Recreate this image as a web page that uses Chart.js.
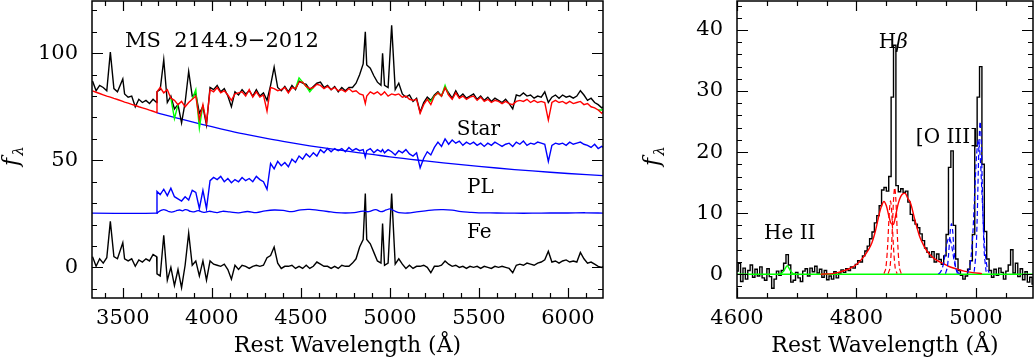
<!DOCTYPE html>
<html>
<head>
<meta charset="utf-8">
<script src="https://cdn.jsdelivr.net/npm/chart.js@4.4.1/dist/chart.umd.min.js"></script>
<style>
  html, body { margin: 0; padding: 0; background: #fff; }
  #wrap { position: relative; width: 1035px; height: 359px; overflow: hidden; }
  canvas { position: absolute; top: 0; }
  #left { left: 0; width: 620px; height: 359px; }
  #right { left: 640px; width: 395px; height: 359px; }
</style>
</head>
<body>
<div id="wrap">
  <canvas id="left" width="620" height="359"></canvas>
  <canvas id="right" width="395" height="359"></canvas>
</div>
<script>
const _ = null;

// ---- left panel: full spectrum and decomposition ----
const waveL = [
  3330,3350,3370,3390,3410,3430,3450,3470,3500,3510,
  3530,3550,3570,3590,3610,3630,3650,3670,3690,3692,
  3710,3730,3750,3770,3790,3810,3830,3850,3870,3890,
  3910,3930,3950,3970,3990,4010,4030,4050,4070,4090,
  4110,4130,4150,4170,4190,4210,4230,4250,4270,4290,
  4310,4330,4350,4370,4390,4410,4430,4450,4470,4490,
  4510,4530,4550,4570,4590,4610,4630,4650,4670,4690,
  4710,4730,4750,4770,4790,4810,4830,4850,4862,4870,
  4890,4910,4930,4950,4959,4970,4990,5010,5030,5050,
  5070,5090,5110,5130,5150,5170,5190,5210,5230,5250,
  5270,5290,5310,5330,5350,5370,5390,5410,5430,5450,
  5470,5490,5510,5530,5550,5570,5590,5610,5630,5650,
  5670,5690,5710,5730,5750,5770,5790,5810,5830,5850,
  5870,5890,5910,5930,5950,5970,5990,6010,6030,6050,
  6070,6090,6110,6130,6150,6170,6190,6200
];
const obsTop = [
  87,82.5,85,84,82.5,100.5,83.5,82,88,81,
  79.5,80,75,78.5,77,78,76.5,78.5,77,82,
  83,97,77,80,74,76,67.5,77,91.5,80,
  81,72,75,66.5,84,83,85,82,83.5,80,
  75,82,80.5,83,81,82.5,80,83,80,81.5,
  78,85,93.5,84,82.5,84.5,82,85,83,87,
  86,85.5,83,84.5,86,86.5,84,85,83,84.5,
  82,84,82.5,84,84,86,90,95,110,94.5,
  93,89.5,86.5,85,100,85,84,113,83,86,
  81,79.5,80.5,77.5,79,72.5,77,79.5,78,80.5,
  82,80,84,81.5,79,82.5,79.5,81,79,80,
  81,78.5,80,78,79.5,77.5,79,78,77,78.5,
  76.5,74,80.5,80,81.5,80,80.5,79,80,79.5,
  82,77,79.5,80.5,79,80.5,79.5,80,79,80,
  82.5,80.5,78,79,77,76,74.5,75
];
const modelFit = [
  82.4,81.8,81.2,80.6,80.0,79.5,78.9,78.4,77.5,77.2,
  76.7,76.1,75.6,75.0,74.5,74.0,73.4,72.9,72.3,82,
  84,81.5,83,79,78,76,77.5,75,77,78.5,
  80,69,76,67.5,83,82,84,81.5,82.5,80.5,
  78,81,81.5,82,80,83,79.5,82,79.5,80.5,
  73,84,83.5,82.5,83,84,81.5,84,83.5,86.5,
  86.5,84.5,83.5,84,85.5,85,83.5,84.5,83,84,
  82.5,83,82,83.5,82,82.5,81,80.5,76.5,80,
  82,81,82,80.5,81,82,80,81,80.5,81,
  79.5,80,78.5,78,78.5,72,76,78.5,76,80,
  81.5,80,84,80.5,78.5,81.5,79,80,78.5,79.5,
  80,78,79.5,77.5,78.5,77,78,77.5,76.5,77.5,
  76.5,76,77.5,78,77.5,78.5,77,78,77,77.5,
  77,68.8,77,78,77,77.5,76.5,77.5,76.5,77,
  77.5,76,76.5,75,74.5,73.5,72,73
];
const greenFit = [
  _,_,_,_,_,_,_,_,_,_,
  _,_,_,_,_,_,_,_,_,_,
  _,_,_,79,69.5,76,_,_,_,78.5,
  83,65,76,_,_,_,_,_,_,_,
  _,_,_,_,_,_,_,_,_,_,
  _,_,_,_,_,_,_,_,83.5,88.5,
  86.5,84.5,82,84,_,_,_,_,_,_,
  _,_,_,_,_,_,_,_,_,_,
  _,_,_,_,_,_,_,_,_,_,
  _,_,_,_,_,_,_,78.5,77.5,80,
  81.5,80,85,80.5,_,_,_,_,_,_,
  _,_,_,_,_,_,_,_,_,_,
  _,_,_,_,_,_,_,_,_,_,
  _,_,_,_,_,_,_,_,_,_,
  _,_,_,_,_,73.5,73.5,74
];
const starFlux = [
  _,_,_,_,_,_,_,_,_,_,
  _,_,_,_,_,_,_,_,25.3,35.5,
  34,36.5,33.5,37,33,32,31,33,31.5,36,
  35,27.5,36,27.5,40.5,42,41,42.5,40,41.5,
  39.5,41,40,42,40.5,41.5,40,42.5,41,40,
  36.5,48.5,46,49.5,47.5,49,47,50.5,49,52,
  50.5,53,51.5,53.5,52,55,53.5,55.5,54,55.5,
  54.5,55.5,54,56,54.5,55.5,54.5,55,51.5,54.5,
  55.5,53.5,55,54,55,53.5,55,54,52.5,54.5,
  53.5,55,53,52,53.5,46.5,51,54,52.5,56,
  58.5,56.5,60,57.5,59.5,58,59,57,58.5,57.5,
  58.5,57,58,56.5,58,57,58.5,57.5,56.5,57.5,
  58,56.5,58.5,57.5,59,57,58,57.5,58.5,58,
  57.5,49.5,57,58,57.5,58,57,58.5,57.5,58,
  58.5,57.5,57,56,57.5,55.5,56.5,56
];
const residFlux = [
  5,0.5,4,2,4.5,21.5,5,4,11.5,4,
  3,4,0.5,3.5,2.5,4,3,6,5,-3,
  -4,15,-6,0,-8.5,-1,-9.5,1,16,1,
  3,-4,3,-6,3,1.5,1,0.5,1.5,-1,
  -5.5,1,-1,1,0.5,-0.5,0.5,1,0.5,1,
  4.5,5.5,9.5,2,-0.5,0.5,0.5,1,-0.5,0.5,
  -0.5,1,-0.5,0.5,2.5,1.5,0.5,0.5,-0.5,0.5,
  -0.5,1,0.5,0.5,2,4,9.5,13,34.5,13,
  11,7,3,2,20.5,1,2,34.5,1.5,4,
  1.5,-0.5,1,-0.5,0.5,0.5,1,0,-2.5,0.5,
  0.5,1,3,1.5,0.5,1,0,0.5,-0.5,0.5,
  0,0.5,-0.5,0.5,0,-0.5,0.5,0,0.5,0,
  -0.5,-2.5,1,1.5,1,2,1.5,1,2,2.5,
  3.5,7.5,2.5,3,2,3,3.5,2.5,3,2.5,
  7,4,2,2.5,1.5,0.5,0,0.5
];
const plWave = [3690,3800,3900,4000,4100,4200,4300,4400,4500,4600,4700,4800,4900,5000,5200,5400,5600,5800,6000,6210];
const plFlux = [72.3,69.8,67.7,65.7,63.8,62.0,60.35,58.85,57.45,56.15,54.95,53.85,52.8,51.6,49.7,47.95,46.4,45.05,43.85,42.75];
const feWave = [
  3320,3690,3700,3715,3730,3745,3760,3775,3790,3805,
  3820,3835,3850,3865,3880,3895,3910,3925,3940,3955,
  3970,3985,4000,4030,4060,4100,4150,4200,4250,4300,
  4350,4400,4450,4500,4550,4600,4650,4700,4750,4800,
  4850,4880,4920,4950,4980,5000,5020,5050,5100,5150,
  5200,5250,5300,5350,5400,5450,5500,5600,5700,5800,
  5900,6000,6100,6210
];
const feFlux = [
  25.3,25.3,25.9,26.6,27.0,26.6,26.0,25.8,26.1,26.6,
  26.8,26.4,27.0,26.7,26.1,25.9,26.2,26.5,26.0,25.7,
  25.9,26.2,26.0,25.6,26.2,25.9,25.5,26.1,25.6,26.4,
  26.8,26.6,26.0,26.9,27.1,26.6,26.1,25.6,25.4,25.6,
  26.3,26.0,27.0,26.0,26.8,27.3,26.6,25.6,25.4,25.9,
  26.4,26.9,27.0,26.7,26.0,25.7,25.5,25.4,25.3,25.3,
  25.4,25.4,25.5,25.3
];
const leftXTicks = [3500, 4000, 4500, 5000, 5500, 6000];
const leftYTicks = [0, 50, 100];

// ---- right panel: H-beta / [O III] region ----
const waveR = [
  4600,4604,4608,4612,4616,4620,4624,4628,4632,4636,
  4640,4644,4648,4652,4656,4660,4664,4668,4672,4676,
  4680,4684,4688,4692,4696,4700,4704,4708,4712,4716,
  4720,4724,4728,4732,4736,4740,4744,4748,4752,4756,
  4760,4764,4768,4772,4776,4780,4784,4788,4792,4796,
  4800,4804,4808,4812,4816,4820,4824,4828,4832,4836,
  4840,4844,4848,4852,4856,4860,4864,4868,4872,4876,
  4880,4884,4888,4892,4896,4900,4904,4908,4912,4916,
  4920,4924,4928,4932,4936,4940,4944,4948,4952,4956,
  4960,4964,4968,4972,4976,4980,4984,4988,4992,4996,
  5000,5004,5008,5012,5016,5020,5024,5028,5032,5036,
  5040,5044,5048,5052,5056,5060,5064,5068,5072,5076,
  5080,5084,5088,5092,5096
];
const obsR = [
  0.5,1.8,-1.2,1.0,-0.8,0.6,1.5,-0.5,0.8,-0.3,
  1.2,-0.6,-1.0,0.9,-0.4,-2.3,-0.8,0.5,-0.2,0.6,
  1.8,3.2,1.5,-1.3,-1.0,0.3,-0.6,-1.2,0.5,0.9,
  -0.3,1.0,0.4,1.3,0.2,0.8,-0.5,0.6,-0.9,-0.3,
  -0.8,0.4,-0.6,0.2,0.7,0.3,0.9,0.6,1.2,1.0,
  1.6,2.2,2.0,3.0,3.8,4.6,5.8,6.9,8.4,9.6,
  11.2,13.8,14.2,13.6,16.0,29.0,37.5,14.5,13.5,14.0,
  13.4,13.6,11.8,9.8,8.8,8.2,7.6,6.6,5.5,4.3,
  3.6,2.8,3.7,2.0,3.3,2.4,1.6,3.0,6.5,17.5,
  20.2,8.0,2.5,0.6,-0.2,-0.8,-0.3,0.8,2.2,6.5,
  21.0,29.0,34.0,18.0,7.0,2.5,0.6,-0.5,0.8,-0.2,
  1.0,0.3,-0.8,0.5,1.5,4.0,0.2,1.8,-0.4,0.9,
  -0.9,0.4,-1.3,-0.5,-1.6
];
const broadWave = [4740,4760,4770,4780,4790,4800,4810,4820,4826,4832,4838,4842,4846,4850,4854,4858,4862,4866,4870,4874,4878,4882,4886,4890,4894,4898,4902,4906,4912,4918,4926,4934,4944,4954,4966,4980,4995,5010];
const broadFlux = [0.0,0.1,0.3,0.6,1.0,1.6,2.6,4.0,5.2,7.2,9.8,11.2,11.9,11.2,9.6,8.3,8.2,9.8,11.6,12.7,13.2,13.2,12.4,11.8,10.4,8.8,7.4,6.1,4.8,3.8,2.9,2.3,1.8,1.3,0.9,0.5,0.25,0.1];
const hbNarrowAWave = [4846,4849,4852,4855,4857,4859,4862,4865,4868];
const hbNarrowAFlux = [0.1,0.9,4.4,10.2,12.0,10.2,4.4,0.9,0.1];
const hbNarrowBWave = [4853,4856,4859,4862,4864,4866,4869,4872,4875];
const hbNarrowBFlux = [0.1,1.0,5.2,12.1,14.2,12.1,5.2,1.0,0.1];
const o3NarrowWave = [4949,4952,4954,4956,4957,4959,4961,4962,4964,4966,4969,4985,4997,5000,5002,5004,5005,5007,5009,5010,5012,5014,5017];
const o3NarrowFlux = [0.1,1.1,3.0,5.7,7.1,8.3,7.1,5.7,3.0,1.1,0.1,_,0.4,3.4,9.0,17.2,21.2,25,21.2,17.2,9.0,3.4,0.4];
const o3BroadWave = [4937,4940,4943,4946,4949,4952,4955,4958,4961,4964,4967,4970,4973,4980,4986,4989,4992,4995,4998,5001,5004,5007,5010,5013,5016,5019,5022];
const o3BroadFlux = [0.07,0.26,0.8,1.9,3.7,5.3,6.0,5.3,3.7,1.9,0.8,0.26,0.07,_,0.25,1.0,3.0,7.0,13.4,19.4,22,19.4,13.4,7.0,3.0,1.0,0.25];
const heWave = [4670,4674,4678,4681,4684,4687,4690,4694,4698];
const heFlux = [0,0.1,0.5,1.0,1.4,1.0,0.5,0.1,0];
const zeroWave = [4590,5100];
const zeroFlux = [0,0];
const rightXTicks = [4600, 4800, 5000];
const rightYTicks = [0, 10, 20, 30, 40];

const leftNotes = [
  {x: 3513, y: 103.1, size: 21, parts: [{t: 'MS  2144.9\u22122012'}]},
  {x: 5376, y: 61.8, size: 20, parts: [{t: 'Star'}]},
  {x: 5433, y: 34.6, size: 20, parts: [{t: 'PL'}]},
  {x: 5433, y: 13.6, size: 20, parts: [{t: 'Fe'}]}
];
const rightNotes = [
  {x: 4837.4, y: 37.05, size: 20, parts: [{t: 'H'}, {t: '\u03b2', italic: true}]},
  {x: 4899.4, y: 21.5, size: 20, parts: [{t: '[O III]'}]},
  {x: 4645.2, y: 5.73, size: 20, parts: [{t: 'He II'}]}
];

Chart.defaults.font.family = "'DejaVu Serif', serif";
Chart.defaults.font.size = 21;
Chart.defaults.color = '#000';

function xy(w, f) {
  return w.map((v, i) => ({x: v, y: f[i]}));
}

function line(data, color, order, extra) {
  return Object.assign({
    data: data, borderColor: color, borderWidth: 1.4, pointRadius: 0,
    fill: false, tension: 0, spanGaps: false, order: order
  }, extra || {});
}

// frame, inward ticks, f_lambda label and text notes
function overlay(cfg) {
  return {
    id: 'overlay',
    afterDraw(chart) {
      const {ctx, chartArea: a, scales: {x, y}} = chart;
      const isMajor = (v, m) => Math.abs(v / m - Math.round(v / m)) < 1e-6;
      ctx.save();
      ctx.strokeStyle = '#000';
      ctx.lineWidth = 1.2;
      ctx.beginPath();
      for (let v = Math.ceil(x.min / cfg.xMinor) * cfg.xMinor; v <= x.max; v += cfg.xMinor) {
        const px = Math.round(x.getPixelForValue(v)) + 0.5;
        const len = isMajor(v, cfg.xMajor) ? 10 : 5;
        ctx.moveTo(px, a.bottom); ctx.lineTo(px, a.bottom - len);
        ctx.moveTo(px, a.top); ctx.lineTo(px, a.top + len);
      }
      for (let v = Math.ceil(y.min / cfg.yMinor) * cfg.yMinor; v <= y.max; v += cfg.yMinor) {
        const py = Math.round(y.getPixelForValue(v)) + 0.5;
        const len = isMajor(v, cfg.yMajor) ? 11 : 5;
        ctx.moveTo(a.left, py); ctx.lineTo(a.left + len, py);
        ctx.moveTo(a.right, py); ctx.lineTo(a.right - len, py);
      }
      ctx.stroke();
      ctx.lineWidth = 1.5;
      ctx.strokeRect(a.left, a.top, a.right - a.left, a.bottom - a.top);

      ctx.fillStyle = '#000';
      ctx.textAlign = 'left';
      ctx.textBaseline = 'alphabetic';
      cfg.notes.forEach(n => {
        let px = x.getPixelForValue(n.x);
        const py = y.getPixelForValue(n.y);
        n.parts.forEach(p => {
          ctx.font = (p.italic ? 'italic ' : '') + n.size + "px 'DejaVu Serif'";
          ctx.fillText(p.t, px, py);
          px += ctx.measureText(p.t).width;
        });
      });

      // y axis title: italic f with subscript lambda, rotated
      ctx.translate(cfg.fx, cfg.fy);
      ctx.rotate(-Math.PI / 2);
      ctx.font = "italic 22px 'DejaVu Serif'";
      ctx.fillText('f', 0, 0);
      const fw = ctx.measureText('f').width;
      ctx.font = "italic 15px 'DejaVu Serif'";
      ctx.fillText('\u03bb', fw + 2, 5);
      ctx.restore();
    }
  };
}

function noPad(s) {
  s.paddingTop = 0; s.paddingBottom = 0; s.paddingLeft = 0; s.paddingRight = 0;
}

function axes(xr, yr, xTicks, yTicks, yWidth) {
  return {
    x: {
      type: 'linear', min: xr[0], max: xr[1],
      grid: {display: false, drawTicks: false},
      border: {display: false},
      ticks: {padding: 8, maxRotation: 0, autoSkip: false, callback: v => String(v)},
      afterBuildTicks: s => { s.ticks = xTicks.map(v => ({value: v})); },
      title: {display: true, text: 'Rest Wavelength (\u00c5)', font: {size: 22}, padding: {top: 2, bottom: 0}},
      afterFit: s => { s.height = 61; noPad(s); }
    },
    y: {
      type: 'linear', min: yr[0], max: yr[1],
      grid: {display: false, drawTicks: false},
      border: {display: false},
      ticks: {padding: 14, autoSkip: false, callback: v => String(v)},
      afterBuildTicks: s => { s.ticks = yTicks.map(v => ({value: v})); },
      afterFit: s => { s.width = yWidth; noPad(s); }
    }
  };
}

const common = {
  responsive: false,
  animation: false,
  devicePixelRatio: 1,
  events: [],
  plugins: {legend: {display: false}, tooltip: {enabled: false}}
};

new Chart(document.getElementById('left'), {
  type: 'line',
  data: {
    datasets: [
      line(xy(waveL, modelFit), '#ff0000', 1),
      line(xy(waveL, greenFit), '#00ff00', 2),
      line(xy(waveL, obsTop), '#000000', 3),
      line(xy(plWave, plFlux), '#0000ff', 4, {tension: 0.4, borderWidth: 1.3}),
      line(xy(waveL, starFlux), '#0000ff', 5),
      line(xy(feWave, feFlux), '#0000ff', 6, {tension: 0.4, borderWidth: 1.3}),
      line(xy(waveL, residFlux), '#000000', 7)
    ]
  },
  options: Object.assign({}, common, {
    layout: {padding: {top: 1, right: 17, bottom: 0, left: 0}},
    scales: axes([3327, 6197], [-14.3, 124.4], leftXTicks, leftYTicks, 92)
  }),
  plugins: [overlay({xMinor: 100, xMajor: 500, yMinor: 10, yMajor: 50, notes: leftNotes, fx: 18, fy: 166})]
});

new Chart(document.getElementById('right'), {
  type: 'line',
  data: {
    datasets: [
      line(xy(o3NarrowWave, o3NarrowFlux), '#0000ff', 1, {borderDash: [5, 3], tension: 0.3, borderWidth: 1.2}),
      line(xy(o3BroadWave, o3BroadFlux), '#0000ff', 2, {borderDash: [5, 3], tension: 0.3, borderWidth: 1.2}),
      line(xy(hbNarrowAWave, hbNarrowAFlux), '#ff0000', 3, {borderDash: [5, 3], tension: 0.3, borderWidth: 1.2}),
      line(xy(hbNarrowBWave, hbNarrowBFlux), '#ff0000', 3, {borderDash: [5, 3], tension: 0.3, borderWidth: 1.2}),
      line(xy(broadWave, broadFlux), '#ff0000', 4, {tension: 0.3}),
      line(xy(heWave, heFlux), '#00ff00', 5, {tension: 0.3}),
      line(xy(zeroWave, zeroFlux), '#00ff00', 5),
      line(xy(waveR, obsR), '#000000', 6, {stepped: 'middle'})
    ]
  },
  options: Object.assign({}, common, {
    layout: {padding: {top: 1, right: 2, bottom: 0, left: 0}},
    scales: axes([4600, 5095.5], [-3.9, 44.75], rightXTicks, rightYTicks, 97)
  }),
  plugins: [overlay({xMinor: 50, xMajor: 200, yMinor: 2, yMajor: 10, notes: rightNotes, fx: 19, fy: 166})]
});
</script>
</body>
</html>
